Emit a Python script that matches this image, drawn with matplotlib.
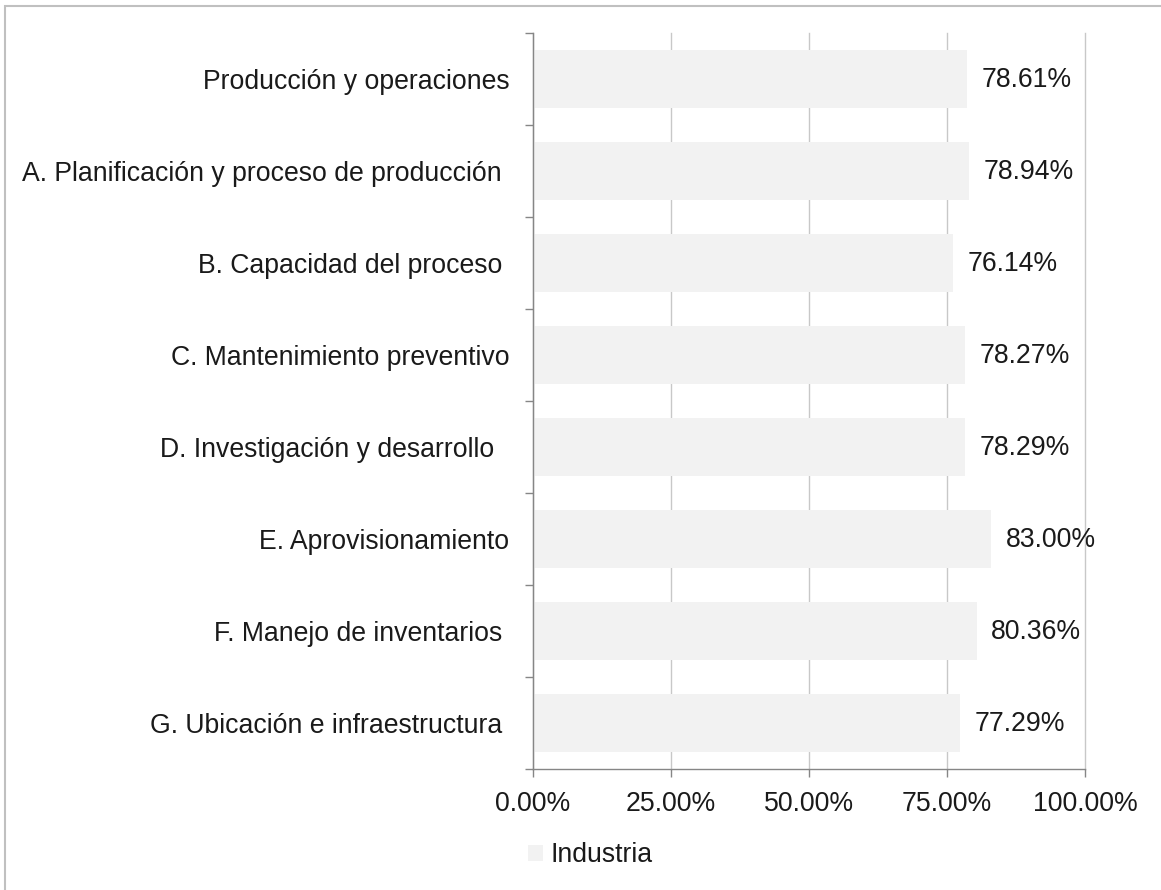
import matplotlib
matplotlib.use("Agg")
import matplotlib.pyplot as plt
import matplotlib.patches as patches

plt.rcParams["font.family"] = ["Liberation Sans", "DejaVu Sans"]

categorias = [
    "Producción y operaciones",
    "A. Planificación y proceso de producción ",
    "B. Capacidad del proceso ",
    "C. Mantenimiento preventivo",
    "D. Investigación y desarrollo  ",
    "E. Aprovisionamiento",
    "F. Manejo de inventarios ",
    "G. Ubicación e infraestructura ",
]
industria = [78.61, 78.94, 76.14, 78.27, 78.29, 83.00, 80.36, 77.29]
xticks = [0, 25, 50, 75, 100]
xlabels = ["0.00%", "25.00%", "50.00%", "75.00%", "100.00%"]
serie = "Industria"

W, H = 1161, 890
fs = 19.2
gris = "#868686"

fig = plt.figure(figsize=(W / 100, H / 100), dpi=100)
ax = fig.add_axes([533 / W, 121 / H, 552 / W, 736 / H])

pos = list(range(len(categorias)))
ax.barh(pos, industria, height=0.62, color="#f2f2f2", label=serie, zorder=2)

for y, v in zip(pos, industria):
    ax.annotate(f"{v:.2f}%", (v, y), xytext=(10.5, -1), textcoords="offset points",
                va="center", ha="left", fontsize=fs, color="#1a1a1a")

ax.set_xlim(0, 100)
ax.set_ylim(len(categorias) - 0.5, -0.5)
ax.set_xticks(xticks)
ax.set_xticklabels(xlabels)
ax.set_yticks(pos)
ax.set_yticklabels(categorias)
ax.set_yticks([p - 0.5 for p in pos] + [len(pos) - 0.5], minor=True)

ax.tick_params(axis="y", which="major", length=0, pad=17, labelsize=fs, labelcolor="#1a1a1a")
ax.tick_params(axis="y", which="minor", length=6, width=1, color=gris, direction="out")
ax.tick_params(axis="x", length=6, width=1, color=gris, direction="out", pad=9.5,
               labelsize=fs, labelcolor="#1a1a1a")

for s in ["top", "right"]:
    ax.spines[s].set_visible(False)
for s in ["left", "bottom"]:
    ax.spines[s].set_color(gris)
    ax.spines[s].set_linewidth(1)

ax.grid(axis="x", color="#c8c8c8", linewidth=1, zorder=0)
ax.set_axisbelow(True)
for g in ax.get_xgridlines():
    g.set_clip_on(False)

fig.legend(loc="center left", bbox_to_anchor=(528 / W, (H - 855) / H), frameon=False,
           fontsize=fs, handlelength=0.55, handleheight=0.55, handletextpad=0.3,
           borderpad=0, borderaxespad=0, labelcolor="#1a1a1a")

fig.add_artist(patches.Rectangle((5 / W, -0.05), 1.1, 1.05 - 6 / H, fill=False,
                                 edgecolor="#c0c0c0", linewidth=1.5,
                                 transform=fig.transFigure))

fig.savefig("out.png", dpi=100)
